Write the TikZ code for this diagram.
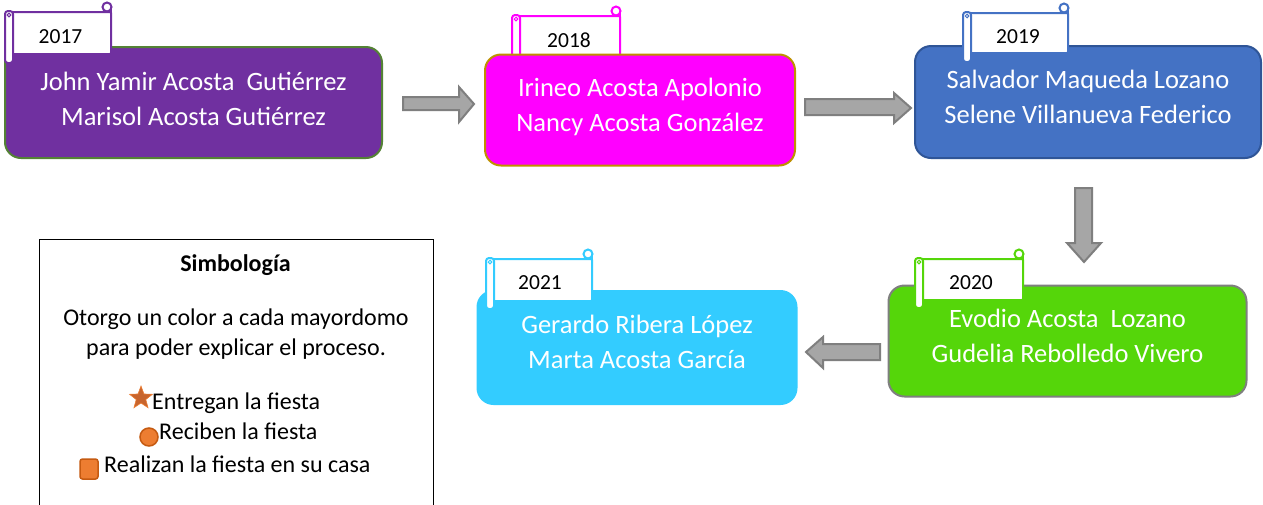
\documentclass[tikz,border=0pt]{standalone}
\usepackage{fontspec}
\setmainfont{Carlito}
\usetikzlibrary{shapes.geometric}
\definecolor{cpurple}{HTML}{7030A0}
\definecolor{cpurpleb}{HTML}{548235}
\definecolor{cmag}{HTML}{FF00FF}
\definecolor{cmagb}{HTML}{BF9000}
\definecolor{cblue}{HTML}{4472C4}
\definecolor{cblueb}{HTML}{2F5597}
\definecolor{cgreen}{HTML}{55D60A}
\definecolor{cgreenb}{HTML}{7F7F7F}
\definecolor{ccyan}{HTML}{33CCFF}
\definecolor{carrow}{HTML}{A6A6A6}
\definecolor{carrowb}{HTML}{7F7F7F}
\definecolor{corange}{HTML}{ED7D31}
\definecolor{corangeb}{HTML}{C55A11}
\definecolor{cstar}{HTML}{C8652E}
\newcommand\yrscroll[6]{%
  \draw[draw=#6,line width=2pt,fill=white,rounded corners=1pt] (#1+6,#2) rectangle (#3,#4);
  \draw[draw=#6,line width=2pt,fill=white] (#3-4,#2-5) circle (4.5pt);
  \draw[draw=#6,line width=2pt,fill=white] (#3,#2-5) -- (#3,#2+2);
  \draw[draw=#6,line width=2pt,fill=white,rounded corners=3pt] (#1,#2-1) rectangle (#1+8,#5);
  \draw[draw=#6,line width=1pt,fill=white] (#1+4,#2+3) circle (1.8pt);
}
\begin{document}
\begin{tikzpicture}[x=1pt,y=-1pt,
  namebox/.style={rounded corners=16pt,line width=2pt,inner sep=0pt},
  nametext/.style={anchor=base,text=white,font=\fontsize{26.5}{32}\selectfont,inner sep=0pt},
  yeartext/.style={anchor=base,text=black,font=\fontsize{21.5}{25}\selectfont,inner sep=0pt},
  legtext/.style={anchor=base,text=black,font=\fontsize{24}{29}\selectfont,inner sep=0pt},
  blockarrow/.style={fill=carrow,draw=carrowb,line width=2pt,line join=miter}]
\useasboundingbox (0,0) rectangle (1263,504);
\fill[white] (0,0) rectangle (1263,504);

% Box 1 (2017)
\node[namebox,fill=cpurple,draw=cpurpleb,minimum width=377pt,minimum height=111pt] (b1) at (193.5,102.5) {};
\yrscroll{5}{12}{111}{54}{63}{cpurple}
\node[yeartext] (y1) at (60.5,43) {2017};
\node[nametext] (n1a) at (193.5,90) {John Yamir Acosta\ \ Gutiérrez};
\node[nametext] (n1b) at (193.5,125) {Marisol Acosta Gutiérrez};

% Box 2 (2018)
\yrscroll{512}{16}{620}{58}{62}{cmag}
\node[namebox,fill=cmag,draw=cmagb,minimum width=310pt,minimum height=111pt] (b2) at (640,110) {};
\node[yeartext] (y2) at (569,47) {2018};
\node[nametext] (n2a) at (640,96) {Irineo Acosta Apolonio};
\node[nametext] (n2b) at (640,131) {Nancy Acosta González};

% Box 3 (2019)
\node[namebox,fill=cblue,draw=cblueb,minimum width=346pt,minimum height=112pt] (b3) at (1088,102) {};
\yrscroll{963}{13}{1068}{53}{62}{cblue}
\node[yeartext] (y3) at (1018,43) {2019};
\node[nametext] (n3a) at (1088,88) {Salvador Maqueda Lozano};
\node[nametext] (n3b) at (1088,123) {Selene Villanueva Federico};

% Box 4 (2020)
\node[namebox,fill=cgreen,draw=cgreenb,minimum width=358pt,minimum height=111pt] (b4) at (1067.5,341) {};
\yrscroll{915}{259}{1023}{300}{308}{cgreen}
\node[yeartext] (y4) at (971,289) {2020};
\node[nametext] (n4a) at (1067.5,327) {Evodio Acosta\ \ Lozano};
\node[nametext] (n4b) at (1067.5,362) {Gudelia Rebolledo Vivero};

% Box 5 (2021)
\node[namebox,fill=ccyan,draw=ccyan,minimum width=319pt,minimum height=113pt] (b5) at (637,347.5) {};
\yrscroll{486}{259}{592}{301}{309}{ccyan}
\node[yeartext] (y5) at (540,289) {2021};
\node[nametext] (n5a) at (637,333) {Gerardo Ribera López};
\node[nametext] (n5b) at (637,368) {Marta Acosta García};

% Block arrows
\draw[blockarrow] (403,97) -- (459,97) -- (459,87) -- (474,104) -- (459,122) -- (459,110) -- (403,110) -- cycle;
\draw[blockarrow] (805,99) -- (894,99) -- (894,93) -- (911,108) -- (894,123) -- (894,115) -- (805,115) -- cycle;
\draw[blockarrow] (1075,188) -- (1092,188) -- (1092,243) -- (1101,243) -- (1084,262) -- (1067,243) -- (1075,243) -- cycle;
\draw[blockarrow] (880,344) -- (823,344) -- (823,337) -- (806,352) -- (823,368) -- (823,360) -- (880,360) -- cycle;

% Legend
\draw[black,line width=0.8pt] (39,506) -- (39,239) -- (433,239) -- (433,506);
\node[legtext,font=\fontsize{24}{29}\selectfont\bfseries] (lt) at (235.5,271) {Simbología};
\node[legtext] (l1) at (236,325) {Otorgo un color a cada mayordomo};
\node[legtext] (l2) at (236,355) {para poder explicar el proceso.};
\node[star,star points=5,star point ratio=2.4,minimum size=24pt,inner sep=0pt,fill=cstar,draw=corange,line width=0.6pt] (s1) at (141,398) {};
\node[legtext,anchor=base west] (l3) at (152,409) {Entregan la fiesta};
\node[circle,minimum size=18pt,inner sep=0pt,fill=corange,draw=corangeb,line width=1.5pt] (s2) at (149,437) {};
\node[legtext,anchor=base west] (l4) at (159,439) {Reciben la fiesta};
\node[rectangle,rounded corners=2.5pt,minimum width=18pt,minimum height=20pt,inner sep=0pt,fill=corange,draw=corangeb,line width=1.5pt] (s3) at (89,469) {};
\node[legtext,anchor=base west] (l5) at (104,472) {Realizan la fiesta en su casa};
\end{tikzpicture}
\end{document}
